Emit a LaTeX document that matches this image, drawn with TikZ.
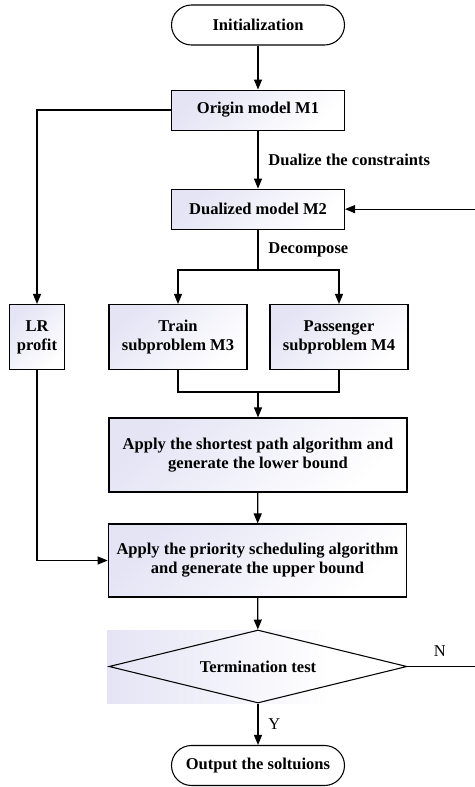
\documentclass[tikz,border=0pt]{standalone}
\usepackage{fontspec}
\setmainfont{Liberation Serif}
\usepackage{tikz}
\usetikzlibrary{arrows.meta,shapes.geometric}
\usetikzlibrary{positioning}
\definecolor{tint}{RGB}{228,228,245}
\tikzset{
    stepbox/.style={
      rectangle,
           draw=black, line width=0.8pt,
           left color=tint, right color=white, shading angle=45,
           inner sep=2pt,
           text centered,
           font=\fontsize{12.4}{14.2}\selectfont\bfseries,
           },
}
\tikzset{
    term/.style={
      rectangle, rounded corners=15pt,
           draw=black, line width=0.8pt,
           fill=white,
           inner sep=2pt,
           text centered,
           minimum width=129.75pt, minimum height=30pt,
           font=\fontsize{12.4}{14.2}\selectfont\bfseries,
           },
}
\tikzset{
    test/.style={
      diamond, aspect=4,
           draw=black, line width=0.8pt,
           inner sep=0pt,
           minimum width=223.5pt, minimum height=54.75pt,
           font=\fontsize{12.4}{14.2}\selectfont\bfseries,
           },
}
\tikzset{
    flow/.style={-{Triangle[length=7.5pt,width=6pt]}, line width=0.9pt},
    lbl/.style={font=\fontsize{12.4}{14.2}\selectfont\bfseries},
    yn/.style={font=\fontsize{12.4}{14.2}\selectfont},
}

\begin{document}
\begin{tikzpicture}[x=0.75pt,y=-0.75pt]
\useasboundingbox (0,0) rectangle (474,787);

\node[term](init) at (258,25){Initialization};

\node[stepbox,minimum width=129.75pt,minimum height=30pt,below = 33pt of init](om){Origin model M1};
\node[stepbox,minimum width=129.75pt,minimum height=30pt,below = 43.5pt of om](dm){Dualized model M2};

\path (init) edge[flow](om);
\path (om) edge[flow] node[lbl,right=4pt]{Dualize the constraints} (dm);

\node[stepbox,minimum width=103.5pt,minimum height=48.75pt,align=center](tr) at (178,337){Train\\subproblem M3};
\node[stepbox,minimum width=103.5pt,minimum height=48.75pt,align=center](ps) at (339,337){Passenger\\subproblem M4};
\node[stepbox,minimum width=41.25pt,minimum height=48.75pt,align=center](lr) at (37,337){LR\\profit};

\coordinate (split) at (258,270);
\coordinate (merge) at (258,392);

\draw[line width=0.9pt] (dm.south) -- node[lbl,right=4pt]{Decompose} (split);
\draw[flow] (split) -| (tr.north);
\draw[flow] (split) -| (ps.north);
\draw[line width=0.9pt] (tr.south) |- (merge) -| (ps.south);

\node[stepbox,minimum width=223.5pt,minimum height=55.5pt,align=center](sp) at (258,455){Apply the shortest path algorithm and\\generate the lower bound};
\node[stepbox,minimum width=224pt,minimum height=54.75pt,align=center](pr) at (257.5,560.5){Apply the priority scheduling algorithm\\and generate the upper bound};

\path (merge) edge[flow](sp);
\path (sp) edge[flow](pr);

\draw[flow] (om.west) -| (lr.north);
\draw[flow] (lr.south) |- (pr.west);

% shading behind the test
\fill[left color=tint,right color=white] (107,630) rectangle (330,703);
\node[test](tt) at (258,666.5){Termination test};
\node[term](out) at (258,765.5){Output the soltuions};

\path (pr) edge[flow](tt);
\path (tt) edge[flow] node[yn,right=4pt]{Y} (out);

\coordinate (back) at (476,666.5);
\draw[flow] (tt.east) -- node[yn,above=4pt,pos=0.47]{N} (back) |- (dm.east);

\end{tikzpicture}
\end{document}
